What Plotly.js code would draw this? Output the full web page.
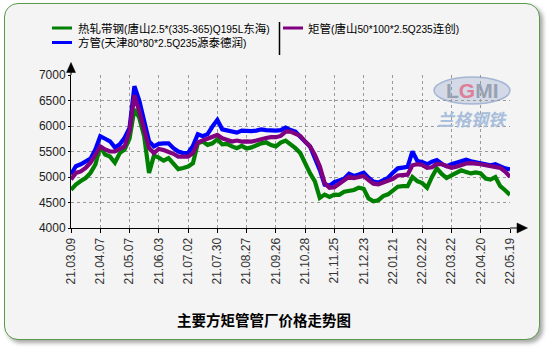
<!DOCTYPE html>
<html><head><meta charset="utf-8">
<script src="https://cdn.plot.ly/plotly-3.0.1.min.js"></script>
<style>
html,body{margin:0;padding:0;background:#fff;width:550px;height:350px;overflow:hidden;}
#box{position:absolute;left:4px;top:3px;width:534px;height:335px;border:1.5px solid #5a9a48;border-radius:14px;background:#f4f4f4;box-shadow:3px 3px 4px rgba(0,0,0,0.35);}
#chart{position:absolute;left:0;top:0;width:550px;height:350px;}
</style></head>
<body><div id="box"></div><div id="chart"></div>
<script>
var tickLabels = ["21.03.09","21.04.07","21.05.07","21.06.03","21.07.02","21.07.30","21.08.27","21.09.26","21.10.28","21.11.25","21.12.23","22.01.21","22.02.22","22.03.22","22.04.20","22.05.19"];
var seriesNames = ["热轧带钢(唐山2.5*(335-365)Q195L东海)","方管(天津80*80*2.5Q235源泰德润)","矩管(唐山50*100*2.5Q235连创)"];
var hotRolled = [4750,4850,4920,4980,5080,5245,5600,5440,5400,5280,5470,5540,5750,6330,6160,5800,5080,5420,5380,
5320,5370,5270,5155,5175,5205,5270,5660,5695,5630,5660,5740,5640,5650,5600,5565,5610,5560,
5580,5625,5660,5680,5625,5600,5675,5715,5650,5565,5470,5260,5075,4915,4590,4655,4610,4655,4650,
4710,4725,4745,4790,4770,4580,4525,4545,4625,4660,4725,4810,4820,4820,5000,4920,4880,
4790,5000,5170,5060,4980,5030,5090,5130,5100,5070,5090,5070,4970,4950,5000,4820,4740,4650];
var squareTube = [5050,5210,5250,5300,5360,5540,5800,5750,5700,5580,5640,5770,5960,6780,6500,6100,5700,5600,5650,
5660,5660,5565,5500,5470,5470,5610,5840,5800,5840,5990,6120,5935,5910,5890,5870,5910,5900,
5900,5910,5935,5920,5910,5910,5920,5970,5920,5890,5790,5695,5600,5370,5140,4850,4830,4900,4930,
4965,5065,5020,5050,5085,4985,4910,4890,4940,4985,5085,5170,5185,5200,5500,5315,5295,
5250,5300,5330,5260,5210,5250,5280,5300,5340,5310,5290,5280,5250,5230,5250,5200,5170,5150];
var rectTube = [4950,5080,5110,5180,5280,5440,5600,5540,5500,5500,5540,5600,5900,6600,6290,5960,5570,5470,5550,
5530,5500,5455,5400,5400,5400,5470,5680,5715,5750,5805,5825,5760,5730,5695,5715,5695,5700,
5695,5715,5750,5765,5780,5780,5805,5890,5890,5855,5805,5695,5600,5435,5210,4880,4790,4800,4870,
4920,5005,4980,5005,5020,4940,4870,4855,4890,4915,4965,5030,5045,5045,5230,5250,5235,
5180,5190,5255,5250,5205,5180,5200,5235,5265,5270,5270,5250,5230,5215,5215,5180,5105,5005];
var colors = ["#008000","#0000ff","#800080"];
var ptsPerTick = 6;

var xIdx = hotRolled.map(function(_, i){ return i; });
var tickVals = tickLabels.map(function(_, k){ return k * ptsPerTick; });
var series = [hotRolled, squareTube, rectTube];
var traces = series.map(function(s, k){
  return {x: xIdx, y: s, type: 'scatter', mode: 'lines', name: seriesNames[k],
          line: {color: colors[k], width: 4.2}, showlegend: false, hoverinfo: 'skip'};
});

var W = 550, H = 350, ML = 71, MR = 40, MT = 75, MB = 122;
var pw = W - ML - MR, ph = H - MT - MB;
function px(X){ return (X - ML) / pw; }
function py(Y){ return (H - MB - Y) / ph; }

// legend label: Latin runs drawn a bit smaller, like the reference's mixed font
function legendText(s){
  return s.replace(/[^\u3400-\u9fff]+/g, function(m){ return '<span style="font-size:10.2px">' + m + '</span>'; });
}

var shapes = [
  {type:'line', xref:'paper', yref:'paper', x0:px(71), x1:px(71), y0:py(75), y1:py(70), line:{color:'#000', width:1}},
  {type:'path', xref:'paper', yref:'paper', path:'M'+px(66.5)+','+py(72.5)+' L'+px(75.5)+','+py(72.5)+' L'+px(71)+','+py(62.5)+' Z', fillcolor:'#000', line:{color:'#000', width:0.5}},
  {type:'line', xref:'paper', yref:'paper', x0:px(510), x1:px(518), y0:py(228), y1:py(228), line:{color:'#000', width:1}},
  {type:'path', xref:'paper', yref:'paper', path:'M'+px(517)+','+py(223)+' L'+px(517)+','+py(233)+' L'+px(527.5)+','+py(228)+' Z', fillcolor:'#000', line:{color:'#000', width:0.5}},
  {type:'line', xref:'paper', yref:'paper', x0:px(279.5), x1:px(279.5), y0:py(22), y1:py(55), line:{color:'#000', width:1.5}},
  {type:'line', xref:'paper', yref:'paper', x0:px(52), x1:px(72), y0:py(28), y1:py(28), line:{color:colors[0], width:3}},
  {type:'line', xref:'paper', yref:'paper', x0:px(52), x1:px(72), y0:py(42.5), y1:py(42.5), line:{color:colors[1], width:3}},
  {type:'line', xref:'paper', yref:'paper', x0:px(283), x1:px(303), y0:py(28), y1:py(28), line:{color:colors[2], width:3}},
  {type:'circle', xref:'paper', yref:'paper', x0:px(434), x1:px(510), y0:py(77), y1:py(104), fillcolor:'rgba(170,185,215,0.45)', line:{color:'rgba(150,170,205,0.8)', width:1.5}, layer:'below'}
];

var legFont = {family:'Liberation Sans, Noto Sans CJK SC, sans-serif', size:11.5, color:'#000'};
var annotations = [
  {xref:'paper', yref:'paper', x:px(76), y:py(28), xanchor:'left', yanchor:'middle', text:legendText(seriesNames[0]), showarrow:false, font:legFont},
  {xref:'paper', yref:'paper', x:px(76), y:py(42.5), xanchor:'left', yanchor:'middle', text:legendText(seriesNames[1]), showarrow:false, font:legFont},
  {xref:'paper', yref:'paper', x:px(306), y:py(28), xanchor:'left', yanchor:'middle', text:legendText(seriesNames[2]), showarrow:false, font:legFont},
  {xref:'paper', yref:'paper', x:px(264), y:py(319), xanchor:'center', yanchor:'middle', text:'<b>主要方矩管管厂价格走势图</b>', showarrow:false,
   font:{family:'Noto Sans CJK SC, sans-serif', size:14.5, color:'#000'}},
  {xref:'paper', yref:'paper', x:px(472), y:py(90.5), xanchor:'center', yanchor:'middle',
   text:'<b><span style="color:#8f97a8">L</span><span style="color:#e0708a">G</span><span style="color:#8f97a8">MI</span></b>', showarrow:false,
   font:{family:'Liberation Sans, sans-serif', size:21, color:'#8f97a8'}, opacity:0.85},
  {xref:'paper', yref:'paper', x:px(472), y:py(118), xanchor:'center', yanchor:'middle', text:'<b><i>兰格钢铁</i></b>', showarrow:false,
   font:{family:'Noto Sans CJK SC, sans-serif', size:17, color:'#a9bedb'}}
];

var layout = {
  width: W, height: H,
  margin: {l: ML, r: MR, t: MT, b: MB, pad: 0},
  paper_bgcolor: 'rgba(0,0,0,0)', plot_bgcolor: 'rgba(0,0,0,0)',
  showlegend: false,
  xaxis: {range: [0, (tickLabels.length - 1) * ptsPerTick], tickmode: 'array', tickvals: tickVals, ticktext: tickLabels,
          tickangle: -90, showgrid: true, gridcolor: '#9a9a9a', griddash: 'dot', gridwidth: 1,
          showline: true, linecolor: '#000', linewidth: 1, ticks: 'outside', ticklen: 4, tickcolor: '#000',
          zeroline: false, tickfont: {family: 'Liberation Sans, Arial, sans-serif', size: 12, color: '#333'}, fixedrange: true},
  yaxis: {range: [4000, 7000], tickmode: 'array', tickvals: [4000,4500,5000,5500,6000,6500,7000],
          showgrid: true, gridcolor: '#9a9a9a', griddash: 'dot', gridwidth: 1,
          showline: true, linecolor: '#000', linewidth: 1, ticks: 'outside', ticklen: 2, tickcolor: '#000',
          zeroline: false, tickfont: {family: 'Liberation Sans, Arial, sans-serif', size: 12, color: '#222'}, fixedrange: true},
  shapes: shapes,
  annotations: annotations
};
Plotly.newPlot('chart', traces, layout, {staticPlot: true, displayModeBar: false});
</script></body></html>
